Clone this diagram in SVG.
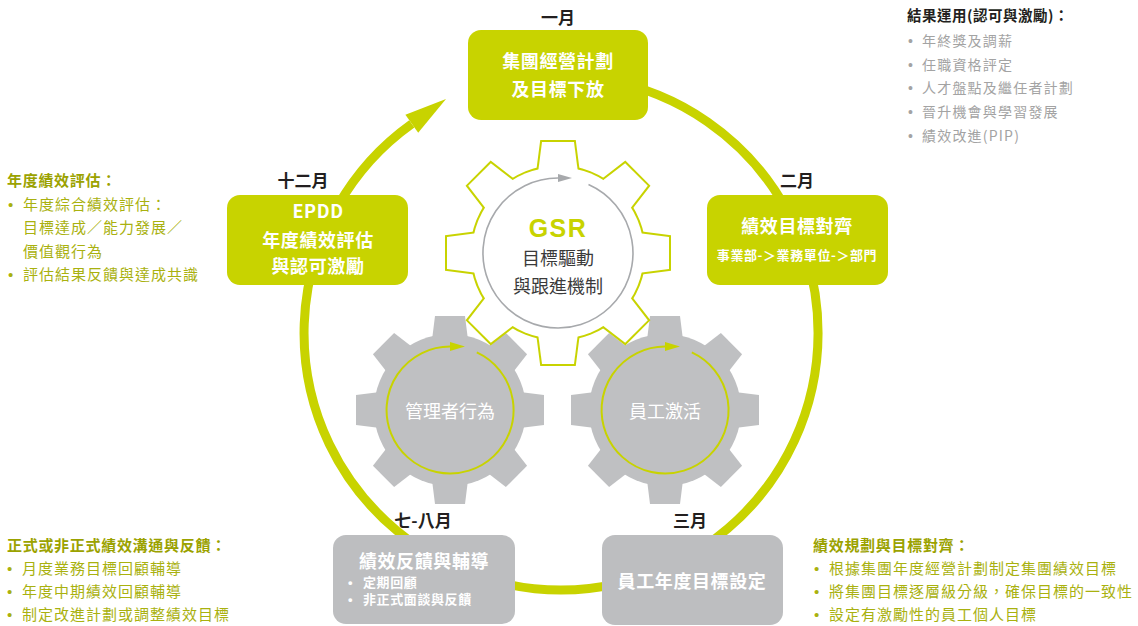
<svg xmlns="http://www.w3.org/2000/svg" width="1138" height="626" viewBox="0 0 1138 626">
<style>
.cjk{font-family:"Noto Sans CJK TC","Noto Sans CJK SC",sans-serif}
.bul{font-family:"Liberation Sans",Arial,sans-serif;letter-spacing:0}
.month{font-size:17px;font-weight:700;fill:#231f20;text-anchor:middle}
.boxt{font-size:18px;font-weight:700;fill:#fff;text-anchor:middle;letter-spacing:0.6px}
.small{font-size:13px;font-weight:700;fill:#fff;letter-spacing:0.6px}
.head{font-size:15px;font-weight:700;fill:#9ba200;letter-spacing:0.7px}
.body{font-size:15px;fill:#a9b10f;letter-spacing:1px}
.ghead{font-size:14.5px;font-weight:700;fill:#231f20;letter-spacing:0.5px}
.gbody{font-size:14px;fill:#a3a3a3;letter-spacing:1.2px}
.lime{fill:#c8d300}
.grey{fill:#bdbec0}
.gearin{font-size:18px;fill:#fff;text-anchor:middle}
</style>
<defs>
<polygon id="toothC" points="-20,-80 -16,-111 16,-111 20,-80"/>
<g id="gearC">
<circle r="86"/>
<use href="#toothC"/>
<use href="#toothC" transform="rotate(45)"/>
<use href="#toothC" transform="rotate(90)"/>
<use href="#toothC" transform="rotate(135)"/>
<use href="#toothC" transform="rotate(180)"/>
<use href="#toothC" transform="rotate(225)"/>
<use href="#toothC" transform="rotate(270)"/>
<use href="#toothC" transform="rotate(315)"/>
</g>
<polygon id="toothG" points="-18,-70 -15,-94 15,-94 18,-70"/>
<g id="gearG">
<circle r="76"/>
<use href="#toothG"/>
<use href="#toothG" transform="rotate(45)"/>
<use href="#toothG" transform="rotate(90)"/>
<use href="#toothG" transform="rotate(135)"/>
<use href="#toothG" transform="rotate(180)"/>
<use href="#toothG" transform="rotate(225)"/>
<use href="#toothG" transform="rotate(270)"/>
<use href="#toothG" transform="rotate(315)"/>
</g>
</defs>
<rect width="1138" height="626" fill="#fff"/>

<g id="connectors">
<path d="M605.6 79.9 A257 257 0 1 1 411.8 123.8" fill="none" stroke="#c8d300" stroke-width="9"/>
<polygon points="446,99 405.4,114.8 418.2,132.8" fill="#c8d300"/>
</g>

<g id="gear-manager">
<use href="#gearG" transform="translate(450,410)" fill="#bfc0c2"/>
<path d="M476.8 352.4 A63.5 63.5 0 1 1 450 346.5" fill="none" stroke="#c8d300" stroke-width="2"/>
<polygon points="465,346.5 450,342 450,351" fill="#c8d300"/>
<text class="cjk gearin" x="450" y="418">管理者行為</text>
</g>

<g id="gear-employee">
<use href="#gearG" transform="translate(665,410)" fill="#bfc0c2"/>
<path d="M691.8 352.4 A63.5 63.5 0 1 1 665 346.5" fill="none" stroke="#c8d300" stroke-width="2"/>
<polygon points="680,346.5 665,342 665,351" fill="#c8d300"/>
<text class="cjk gearin" x="665" y="418">員工激活</text>
</g>

<g id="gear-gsr">
<use href="#gearC" transform="translate(558,253)" fill="#c8d300" stroke="#c8d300" stroke-width="4" stroke-linejoin="miter"/>
<use href="#gearC" transform="translate(558,253)" fill="#fff"/>
<path d="M588.5 184.5 A75 75 0 1 1 558 178" fill="none" stroke="#a7a9ac" stroke-width="1.6"/>
<polygon points="572,178 558,174 558,182" fill="#a7a9ac"/>
<text x="558" y="237" text-anchor="middle" font-family="Liberation Sans, Arial, sans-serif" font-weight="700" font-size="25" letter-spacing="1.5" fill="#c8d300">GSR</text>
<text class="cjk" x="558" y="265" text-anchor="middle" font-size="18" fill="#3a3a3a">目標驅動</text>
<text class="cjk" x="558" y="293" text-anchor="middle" font-size="18" fill="#3a3a3a">與跟進機制</text>
</g>

<g id="node-jan">
<text class="cjk month" x="558" y="24">一月</text>
<rect x="468" y="30" width="180" height="90" rx="13" class="lime"/>
<text class="cjk boxt" x="558" y="68">集團經營計劃</text>
<text class="cjk boxt" x="558" y="96">及目標下放</text>
</g>

<g id="node-feb">
<text class="cjk month" x="797" y="187">二月</text>
<rect x="707" y="195" width="181" height="90" rx="13" class="lime"/>
<text class="cjk boxt" x="797" y="233">績效目標對齊</text>
<text class="cjk small" x="797" y="260" text-anchor="middle">事業部-＞業務單位-＞部門</text>
</g>

<g id="node-dec">
<text class="cjk month" x="303" y="187">十二月</text>
<rect x="227" y="195" width="181" height="90" rx="13" class="lime"/>
<text class="cjk boxt" x="318" y="218">EPDD</text>
<text class="cjk boxt" x="318" y="247">年度績效評估</text>
<text class="cjk boxt" x="318" y="273">與認可激勵</text>
</g>

<g id="node-jul">
<text class="cjk month" x="423" y="527">七-八月</text>
<rect x="333" y="535" width="182" height="89" rx="13" class="grey"/>
<text class="cjk boxt" x="424" y="568">績效反饋與輔導</text>
<text class="bul small" x="348" y="587">•</text>
<text class="cjk small" x="363" y="587">定期回顧</text>
<text class="bul small" x="348" y="604">•</text>
<text class="cjk small" x="363" y="604">非正式面談與反饋</text>
</g>

<g id="node-mar">
<text class="cjk month" x="690" y="527">三月</text>
<rect x="602" y="535" width="181" height="90" rx="13" class="grey"/>
<text class="cjk boxt" x="692" y="588">員工年度目標設定</text>
</g>

<g id="note-results">
<text class="cjk ghead" x="907" y="21">結果運用(認可與激勵)：</text>
<text class="bul gbody" x="908" y="46">•</text><text class="cjk gbody" x="922" y="46">年終獎及調薪</text>
<text class="bul gbody" x="908" y="70">•</text><text class="cjk gbody" x="922" y="70">任職資格評定</text>
<text class="bul gbody" x="908" y="93">•</text><text class="cjk gbody" x="922" y="93">人才盤點及繼任者計劃</text>
<text class="bul gbody" x="908" y="117">•</text><text class="cjk gbody" x="922" y="117">晉升機會與學習發展</text>
<text class="bul gbody" x="908" y="141">•</text><text class="cjk gbody" x="922" y="141">績效改進(PIP)</text>
</g>

<g id="note-annual">
<text class="cjk head" x="7" y="186">年度績效評估：</text>
<text class="bul body" x="8" y="210">•</text><text class="cjk body" x="23" y="210">年度綜合績效評估：</text>
<text class="cjk body" x="23" y="233">目標達成／能力發展／</text>
<text class="cjk body" x="23" y="257">價值觀行為</text>
<text class="bul body" x="8" y="280">•</text><text class="cjk body" x="23" y="280">評估結果反饋與達成共識</text>
</g>

<g id="note-feedback">
<text class="cjk head" x="7" y="551">正式或非正式績效溝通與反饋：</text>
<text class="bul body" x="7" y="574">•</text><text class="cjk body" x="22" y="574">月度業務目標回顧輔導</text>
<text class="bul body" x="7" y="597">•</text><text class="cjk body" x="22" y="597">年度中期績效回顧輔導</text>
<text class="bul body" x="7" y="620">•</text><text class="cjk body" x="22" y="620">制定改進計劃或調整績效目標</text>
</g>

<g id="note-planning">
<text class="cjk head" x="813" y="551">績效規劃與目標對齊：</text>
<text class="bul body" x="814" y="574">•</text><text class="cjk body" x="829" y="574">根據集團年度經營計劃制定集團績效目標</text>
<text class="bul body" x="814" y="597">•</text><text class="cjk body" x="829" y="597">將集團目標逐層級分級，確保目標的一致性</text>
<text class="bul body" x="814" y="620">•</text><text class="cjk body" x="829" y="620">設定有激勵性的員工個人目標</text>
</g>
</svg>
